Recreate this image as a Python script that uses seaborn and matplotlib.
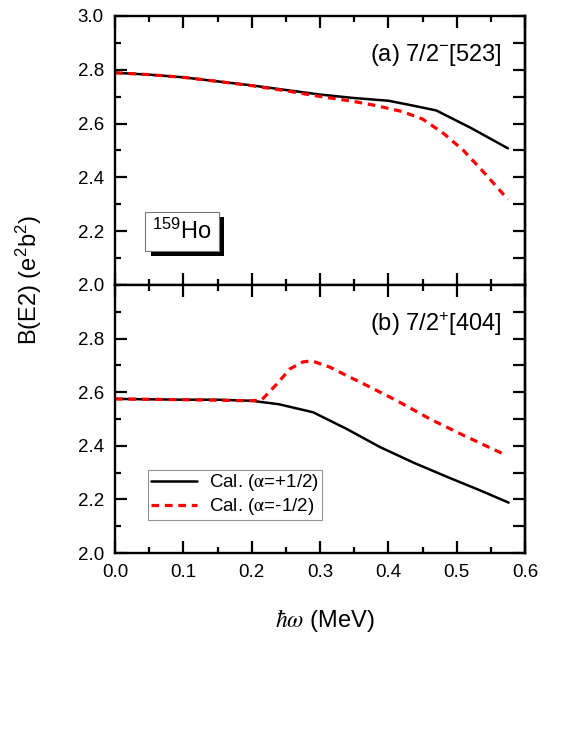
import numpy as np
import pandas as pd
import matplotlib
matplotlib.use("Agg")
import matplotlib.pyplot as plt
import matplotlib.patheffects as pe
from matplotlib.ticker import MultipleLocator
import seaborn as sns

# panel (a) 7/2-[523]
omega_a_plus = [0.0, 0.05, 0.10, 0.15, 0.20, 0.25, 0.30, 0.35, 0.40, 0.43, 0.47, 0.52, 0.575]
be2_a_plus = [2.789, 2.782, 2.772, 2.757, 2.742, 2.725, 2.708, 2.695, 2.685, 2.670, 2.649, 2.585, 2.508]
omega_a_minus = [0.0, 0.05, 0.10, 0.15, 0.20, 0.25, 0.30, 0.35, 0.38, 0.42, 0.45, 0.48, 0.51, 0.54, 0.575]
be2_a_minus = [2.789, 2.782, 2.772, 2.757, 2.741, 2.722, 2.701, 2.682, 2.668, 2.645, 2.617, 2.565, 2.500, 2.418, 2.318]

# panel (b) 7/2+[404]
omega_b_plus = [0.0, 0.10, 0.15, 0.20, 0.24, 0.29, 0.339, 0.388, 0.437, 0.486, 0.534, 0.576]
be2_b_plus = [2.575, 2.572, 2.572, 2.568, 2.555, 2.525, 2.463, 2.395, 2.337, 2.284, 2.234, 2.188]
omega_b_minus = [0.0, 0.10, 0.20, 0.215, 0.237, 0.256, 0.275, 0.288, 0.315, 0.339, 0.364, 0.412, 0.461, 0.510, 0.573]
be2_b_minus = [2.575, 2.572, 2.568, 2.572, 2.631, 2.687, 2.713, 2.717, 2.693, 2.662, 2.631, 2.569, 2.500, 2.439, 2.364]

labels = [r"Cal. ($\mathrm{\alpha}$=+1/2)", r"Cal. ($\mathrm{\alpha}$=-1/2)"]
x_ticks = [0.0, 0.1, 0.2, 0.3, 0.4, 0.5, 0.6]

sns.set_style("ticks")
plt.rcParams["font.family"] = ["Liberation Sans", "DejaVu Sans"]
plt.rcParams["mathtext.fontset"] = "stix"
for key in ["text.color", "axes.edgecolor", "axes.labelcolor", "xtick.color", "ytick.color"]:
    plt.rcParams[key] = "black"

dash = (0, (2.4, 1.8))

fig = plt.figure(figsize=(5.81, 7.52), dpi=100)
L, R = 115 / 581, 525 / 581
ax_a = fig.add_axes([L, 1 - 285 / 752, R - L, 269 / 752])
ax_b = fig.add_axes([L, 1 - 553 / 752, R - L, 268 / 752], sharex=ax_a)

df_a1 = pd.DataFrame({"w": omega_a_plus, "b": be2_a_plus})
df_a2 = pd.DataFrame({"w": omega_a_minus, "b": be2_a_minus})
df_b1 = pd.DataFrame({"w": omega_b_plus, "b": be2_b_plus})
df_b2 = pd.DataFrame({"w": omega_b_minus, "b": be2_b_minus})

sns.lineplot(data=df_a1, x="w", y="b", ax=ax_a, color="black", lw=1.8)
sns.lineplot(data=df_a2, x="w", y="b", ax=ax_a, color="#ff0000", lw=2.3, linestyle=dash)
sns.lineplot(data=df_b1, x="w", y="b", ax=ax_b, color="black", lw=1.8, label=labels[0])
sns.lineplot(data=df_b2, x="w", y="b", ax=ax_b, color="#ff0000", lw=2.3, linestyle=dash, label=labels[1])

for ax in (ax_a, ax_b):
    ax.set_xlim(0, 0.6)
    ax.set_ylim(2.0, 3.0)
    ax.set_xlabel("")
    ax.set_ylabel("")
    ax.xaxis.set_major_locator(MultipleLocator(0.1))
    ax.xaxis.set_minor_locator(MultipleLocator(0.05))
    ax.yaxis.set_major_locator(MultipleLocator(0.2))
    ax.yaxis.set_minor_locator(MultipleLocator(0.1))
    ax.tick_params(which="both", direction="in", top=True, right=False, width=1.6,
                   labelsize=13.5, pad=8)
    ax.tick_params(which="major", length=8.5)
    ax.tick_params(which="minor", length=4.5)
    for s in ax.spines.values():
        s.set_linewidth(1.7)
    sec = ax.secondary_yaxis("right")
    sec.set_yticks(np.arange(2.0, 3.01, 0.1))
    sec.tick_params(direction="in", length=8.5, width=1.6, labelright=False)
    sec.spines["right"].set_linewidth(1.7)

ax_a.tick_params(labelbottom=False)
ax_b.set_yticks([2.0, 2.2, 2.4, 2.6, 2.8])
ax_b.set_xticks(x_ticks)
ax_b.set_xticklabels([f"{v:.1f}" for v in x_ticks])
ax_a.set_yticklabels([f"{v:.1f}" for v in ax_a.get_yticks()])
ax_b.set_yticklabels([f"{v:.1f}" for v in ax_b.get_yticks()])

ax_a.text(0.942, 0.855, r"(a) 7/2$\mathregular{^{-}}$[523]", transform=ax_a.transAxes,
          ha="right", va="center", fontsize=17)
ax_b.text(0.942, 0.855, r"(b) 7/2$\mathregular{^{+}}$[404]", transform=ax_b.transAxes,
          ha="right", va="center", fontsize=17)

ho = ax_a.text(0.163, 0.20, r"$\mathregular{^{159}}$Ho", transform=ax_a.transAxes,
               ha="center", va="center", fontsize=17,
               bbox=dict(boxstyle="square,pad=0.3", fc="white", ec="#777777", lw=0.8))
ho.get_bbox_patch().set_path_effects([
    pe.SimplePatchShadow(offset=(4, -4), shadow_rgbFace="black", alpha=1.0),
    pe.Normal()])

leg = ax_b.legend(loc="lower left", bbox_to_anchor=(0.08, 0.123), borderaxespad=0,
                  fontsize=13.5, frameon=True, fancybox=False, edgecolor="#777777",
                  handlelength=2.5, borderpad=0.15, labelspacing=0.15, handletextpad=0.6)
leg.get_frame().set_linewidth(0.8)

fig.text(325 / 581, 1 - 620 / 752, r"$\hbar\omega$ (MeV)", ha="center", va="center", fontsize=17)
fig.text(29 / 581, 1 - 280 / 752, "B(E2) (e$\mathregular{^2}$b$\mathregular{^2}$)",
         ha="center", va="center", rotation=90, fontsize=17)

fig.savefig("out.png", dpi=100)
